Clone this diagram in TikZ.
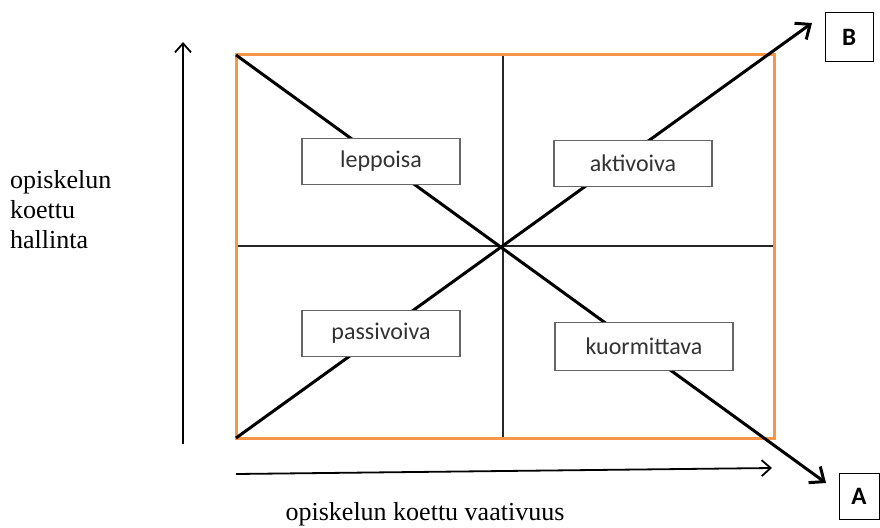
\documentclass[tikz,border=0pt]{standalone}
\usepackage{fontspec}
\setmainfont{Liberation Serif}
\newfontfamily\captionfont{Liberation Serif}
\newfontfamily\labelfont{Carlito}
\usetikzlibrary{arrows.meta}
\definecolor{frameorange}{RGB}{247,150,70}
\tikzset{
  quad/.style={draw=black!60, line width=1.3pt, fill=white, minimum width=158pt,
    minimum height=46pt, inner sep=0pt, font=\labelfont\fontsize{24}{28}\selectfont, text=black!80},
  corner/.style={draw=black, line width=1pt, fill=white, inner sep=0pt,
    font=\labelfont\bfseries\fontsize{25}{28}\selectfont},
  diag/.style={line width=3pt, -{Straight Barb[length=12pt,width=20pt,line width=3pt]}},
  axis/.style={line width=1.8pt, -{Straight Barb[length=9pt,width=16pt,line width=1.8pt]}},
  grid/.style={line width=1.1pt, black!85},
  caption/.style={font=\captionfont\fontsize{26}{30}\selectfont, inner sep=0pt}
}
\begin{document}
\begin{tikzpicture}[x=1pt,y=-1pt]
\useasboundingbox (0,0) rectangle (880,527);
% frame corners and centre
\coordinate (tl) at (236,55);
\coordinate (tr) at (774,55);
\coordinate (bl) at (236,438);
\coordinate (br) at (774,438);
\coordinate (mt) at (503,55);
\coordinate (mb) at (503,438);
\coordinate (ml) at (236,246);
\coordinate (mr) at (774,246);
\coordinate (tipB) at (812,23);
\coordinate (tipA) at (826,483);
% quadrant dividers
\draw[grid] (mt) -- (mb);
\draw[grid] (ml) -- (mr);
% orange frame
\draw[frameorange, line width=3pt] (tl) rectangle (br);
% diagonals
\draw[diag] (bl) -- (tipB);
\draw[diag] (tl) -- (tipA);
% quadrant labels
\node[quad] (lep) at (381,161.5) {leppoisa};
\node[quad] (akt) at (633,163.5) {aktivoiva};
\node[quad] (pas) at (381,333.5) {passivoiva};
\node[quad, minimum width=178pt, minimum height=48pt] (kuo) at (644,346.5) {kuormittava};
% end labels
\node[corner, minimum width=48pt, minimum height=49pt] (B) at (849,37.5) {B};
\node[corner, minimum width=40pt, minimum height=46pt] (A) at (859,496) {A};
% axes
\coordinate (v0) at (183,444);
\coordinate (v1) at (183,42);
\coordinate (h0) at (236,474);
\coordinate (h1) at (772,468);
\draw[axis] (v0) -- (v1);
\draw[axis] (h0) -- (h1);
% axis captions
\node[caption, anchor=base west, align=left] (ycap) at (10,248) {opiskelun\\koettu\\hallinta};
\node[caption, anchor=base] (xcap) at (425,520) {opiskelun koettu vaativuus};
\end{tikzpicture}
\end{document}
